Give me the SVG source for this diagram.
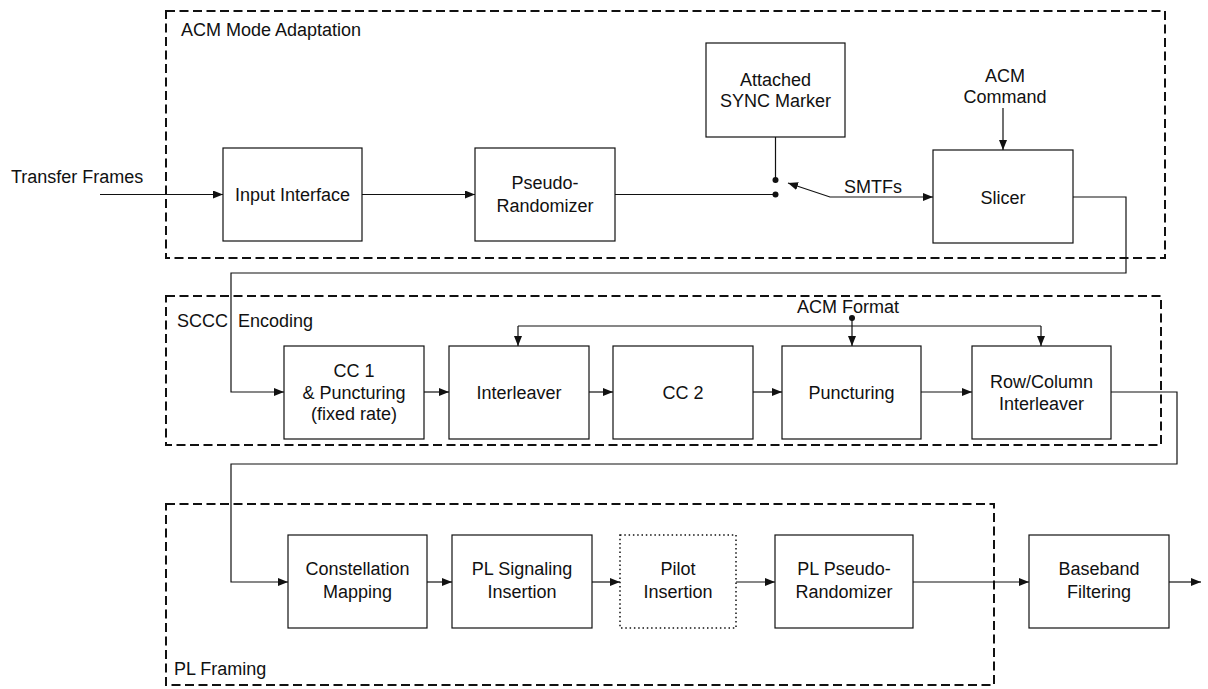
<svg xmlns="http://www.w3.org/2000/svg" width="1208" height="689" viewBox="0 0 1208 689">
<style>
text{font-family:"Liberation Sans",Arial,sans-serif;font-size:18px;fill:#111}
.c{text-anchor:middle}
.box{fill:#fff;stroke:#111;stroke-width:1.2}
.dot{fill:none;stroke:#111;stroke-width:1.5;stroke-dasharray:1.5 2.8}
.grp{fill:none;stroke:#111;stroke-width:2;stroke-dasharray:9 4.5}
.ln{fill:none;stroke:#111;stroke-width:1.2}
.a{marker-end:url(#ah)}
</style>
<defs>
<marker id="ah" viewBox="0 0 10 8" refX="10" refY="4" markerWidth="10" markerHeight="8" markerUnits="userSpaceOnUse" orient="auto-start-reverse">
<path d="M0,0L10,4L0,8z" fill="#111"/>
</marker>
</defs>

<g id="group-acm-mode-adaptation">
<rect class="grp" x="166" y="11" width="999" height="247"/>
<text x="181" y="36">ACM Mode Adaptation</text>
</g>
<g id="group-sccc-encoding">
<rect class="grp" x="166" y="296" width="995" height="149"/>
<text x="177" y="327" xml:space="preserve" style="white-space:pre">SCCC  Encoding</text>
</g>
<g id="group-pl-framing">
<rect class="grp" x="166" y="504" width="828" height="181"/>
<text x="174" y="675">PL Framing</text>
</g>

<g id="connectors">
<path class="ln a" d="M100,194.5H223"/>
<path class="ln a" d="M362,194.5H475"/>
<path class="ln" d="M615,194.5H775"/>
<path class="ln" d="M775.5,137V180"/>
<circle cx="775.5" cy="180" r="3" fill="#111"/>
<circle cx="775.5" cy="194.5" r="3" fill="#111"/>
<path class="ln" d="M788,183L830,197H933" marker-start="url(#ah)" marker-end="url(#ah)"/>
<path class="ln a" d="M1003,108V150"/>
<path class="ln a" d="M1073,197H1126V273H231V392H284"/>
<path class="ln a" d="M424,392H449"/>
<path class="ln a" d="M589,392H613"/>
<path class="ln a" d="M753,392H782"/>
<path class="ln a" d="M921,392H972"/>
<path class="ln" d="M518,326H1041"/>
<path class="ln a" d="M518,326V346"/>
<path class="ln a" d="M1041,326V346"/>
<circle cx="852" cy="318" r="3" fill="#111"/>
<path class="ln a" d="M852,318V346"/>
<path class="ln a" d="M1111,392H1177V464H231V582H288"/>
<path class="ln a" d="M427,582H452"/>
<path class="ln a" d="M592,582H620"/>
<path class="ln a" d="M736,582H775"/>
<path class="ln a" d="M913,582H1029"/>
<path class="ln a" d="M1169,582H1201"/>
</g>

<g id="label-transfer-frames"><text x="11" y="183">Transfer Frames</text></g>
<g id="label-smtfs"><text x="873" y="193" class="c">SMTFs</text></g>
<g id="label-acm-command"><text x="1005" y="82" class="c">ACM</text><text x="1005" y="103" class="c">Command</text></g>
<g id="label-acm-format"><text x="848" y="313" class="c">ACM Format</text></g>

<g id="node-input-interface">
<rect class="box" x="223" y="148" width="139" height="93"/>
<text x="292.5" y="200.5" class="c">Input Interface</text>
</g>
<g id="node-pseudo-randomizer">
<rect class="box" x="475" y="148" width="140" height="93"/>
<text x="545" y="189" class="c">Pseudo-</text>
<text x="545" y="212" class="c">Randomizer</text>
</g>
<g id="node-attached-sync-marker">
<rect class="box" x="706" y="43" width="139" height="94"/>
<text x="775.5" y="86" class="c">Attached</text>
<text x="775.5" y="107" class="c">SYNC Marker</text>
</g>
<g id="node-slicer">
<rect class="box" x="933" y="150" width="140" height="93"/>
<text x="1003" y="204" class="c">Slicer</text>
</g>

<g id="node-cc1">
<rect class="box" x="284" y="346" width="140" height="93"/>
<text x="354" y="377" class="c">CC 1</text>
<text x="354" y="398.5" class="c">&amp; Puncturing</text>
<text x="354" y="420" class="c">(fixed rate)</text>
</g>
<g id="node-interleaver">
<rect class="box" x="449" y="346" width="140" height="93"/>
<text x="519" y="398.5" class="c">Interleaver</text>
</g>
<g id="node-cc2">
<rect class="box" x="613" y="346" width="140" height="93"/>
<text x="683" y="398.5" class="c">CC 2</text>
</g>
<g id="node-puncturing">
<rect class="box" x="782" y="346" width="139" height="93"/>
<text x="851.5" y="398.5" class="c">Puncturing</text>
</g>
<g id="node-row-column-interleaver">
<rect class="box" x="972" y="346" width="139" height="93"/>
<text x="1041.5" y="388" class="c">Row/Column</text>
<text x="1041.5" y="410" class="c">Interleaver</text>
</g>

<g id="node-constellation-mapping">
<rect class="box" x="288" y="535" width="139" height="93"/>
<text x="357.5" y="575" class="c">Constellation</text>
<text x="357.5" y="597.5" class="c">Mapping</text>
</g>
<g id="node-pl-signaling-insertion">
<rect class="box" x="452" y="535" width="140" height="93"/>
<text x="522" y="575" class="c">PL Signaling</text>
<text x="522" y="597.5" class="c">Insertion</text>
</g>
<g id="node-pilot-insertion">
<rect class="dot" x="620" y="535" width="116" height="93"/>
<text x="678" y="575" class="c">Pilot</text>
<text x="678" y="597.5" class="c">Insertion</text>
</g>
<g id="node-pl-pseudo-randomizer">
<rect class="box" x="775" y="535" width="138" height="93"/>
<text x="844" y="575" class="c">PL Pseudo-</text>
<text x="844" y="597.5" class="c">Randomizer</text>
</g>
<g id="node-baseband-filtering">
<rect class="box" x="1029" y="535" width="140" height="93"/>
<text x="1099" y="575" class="c">Baseband</text>
<text x="1099" y="597.5" class="c">Filtering</text>
</g>
</svg>
